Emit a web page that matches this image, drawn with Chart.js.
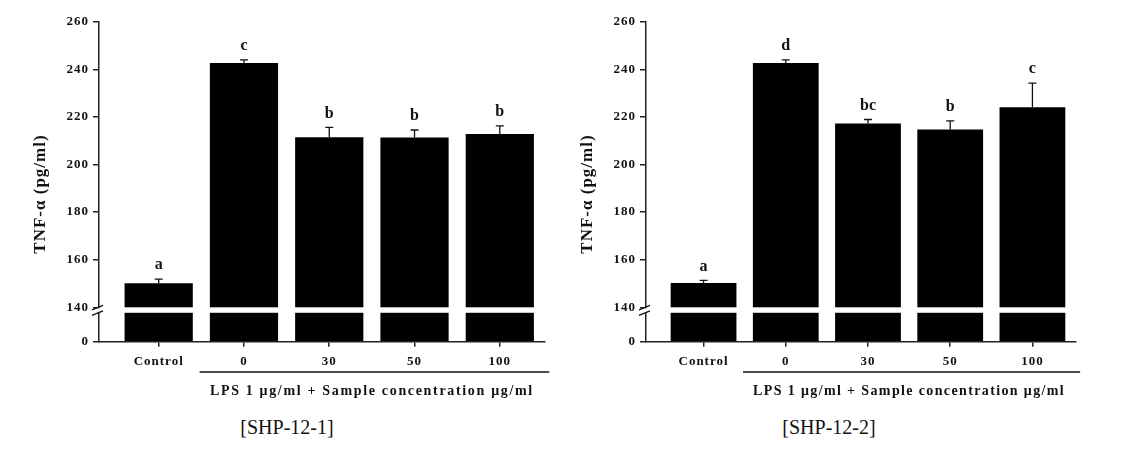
<!DOCTYPE html>
<html>
<head>
<meta charset="utf-8">
<script src="https://cdn.jsdelivr.net/npm/chart.js@4"></script>
<style>
  body { margin: 0; background: #fff; }
  #wrap { position: relative; width: 1130px; height: 452px; overflow: hidden; background: #fff; }
  canvas { position: absolute; top: 0; }
  .caption { position: absolute; top: 416px; font: 20px 'Liberation Serif', serif; color: #111; transform: translateX(-50%); white-space: nowrap; line-height: 23px; }
</style>
</head>
<body>
<div id="wrap">
  <canvas id="chart1" width="565" height="400" style="left:0"></canvas>
  <canvas id="chart2" width="565" height="400" style="left:547px"></canvas>
  <div class="caption" style="left:287px">[SHP-12-1]</div>
  <div class="caption" style="left:829px">[SHP-12-2]</div>
</div>
<script>
// data
const categories = ['Control', '0', '30', '50', '100'];
const tickValues = [0, 140, 160, 180, 200, 220, 240, 260];

const shp1Values = [150.1, 242.6, 211.4, 211.3, 212.8];
const shp1Errors = [1.7, 1.4, 4.2, 3.2, 3.4];
const shp1Letters = ['a', 'c', 'b', 'b', 'b'];

const shp2Values = [150.2, 242.7, 217.2, 214.7, 224.1];
const shp2Errors = [1.1, 1.3, 1.7, 3.6, 10.1];
const shp2Letters = ['a', 'd', 'bc', 'b', 'c'];

const xTitle = 'LPS 1 \u03bcg/ml + Sample concentration \u03bcg/ml';
const yTitle = 'TNF-\u03b1 (pg/ml)';

// broken axis: 0..140 squeezed into a short lower segment
const LOWER = 14.45;
const GAP = 2.3;
function toDisp(v) {
  return v >= 140 ? v - 140 + LOWER : v * LOWER / 140;
}

Chart.defaults.font.family = "'Liberation Serif', 'Times New Roman', serif";
Chart.defaults.font.weight = 'bold';
Chart.defaults.color = '#111';

const notesPlugin = {
  id: 'notes',
  beforeDraw(chart) {
    chart.ctx.letterSpacing = '1px';
  },
  afterDatasetsDraw(chart, args, opts) {
    const ctx = chart.ctx;
    const x = chart.scales.x, y = chart.scales.y;
    const area = chart.chartArea;
    ctx.save();
    // white gap through the bars at the break
    const gTop = y.getPixelForValue(LOWER);
    const gBot = y.getPixelForValue(LOWER - GAP);
    ctx.fillStyle = '#fff';
    ctx.fillRect(area.left + 1, gTop, area.right - area.left, gBot - gTop);

    // error bars (upper half) and letters
    ctx.strokeStyle = '#111';
    ctx.lineWidth = 1.3;
    ctx.fillStyle = '#111';
    ctx.font = "bold 16px 'Liberation Serif', serif";
    ctx.letterSpacing = '0px';
    ctx.textAlign = 'center';
    ctx.textBaseline = 'middle';
    opts.values.forEach((v, i) => {
      const px = x.getPixelForValue(i);
      const top = y.getPixelForValue(toDisp(v));
      const cap = y.getPixelForValue(toDisp(v + opts.errors[i]));
      ctx.beginPath();
      ctx.moveTo(px, top);
      ctx.lineTo(px, cap);
      ctx.moveTo(px - 4, cap);
      ctx.lineTo(px + 4, cap);
      ctx.stroke();
      ctx.fillText(opts.letters[i], px, cap - 14);
    });

    // axis break mark
    const ax = area.left;
    ctx.fillStyle = '#fff';
    ctx.fillRect(ax - 2, gTop + 1, 4, gBot - gTop - 1);
    ctx.beginPath();
    ctx.moveTo(ax - 7, gTop + 2.5);
    ctx.lineTo(ax + 4, gTop - 2);
    ctx.moveTo(ax - 7, gBot + 2.5);
    ctx.lineTo(ax + 4, gBot - 2);
    ctx.stroke();
    ctx.restore();
  },
  afterDraw(chart) {
    const ctx = chart.ctx;
    const x = chart.scales.x;
    ctx.save();
    // bracket line under the LPS groups
    const x1 = x.getPixelForValue(1), x4 = x.getPixelForValue(4);
    const unit = x.getPixelForValue(1) - x.getPixelForValue(0);
    ctx.strokeStyle = '#111';
    ctx.lineWidth = 1.5;
    ctx.beginPath();
    ctx.moveTo(x1 - 0.52 * unit, 372);
    ctx.lineTo(x4 + 0.58 * unit, 372);
    ctx.stroke();

    // group title, stretched to the width of the original
    ctx.fillStyle = '#111';
    ctx.font = "bold 14px 'Liberation Serif', serif";
    ctx.letterSpacing = '0px';
    const target = 1.26 * (x4 - x1);
    const w = ctx.measureText(xTitle).width;
    ctx.letterSpacing = ((target - w) / (xTitle.length - 1)).toFixed(2) + 'px';
    ctx.textAlign = 'center';
    ctx.textBaseline = 'middle';
    ctx.fillText(xTitle, (x1 + x4) / 2, 391);

    // y title
    ctx.font = "bold 17px 'Liberation Serif', serif";
    ctx.letterSpacing = '1px';
    ctx.translate(41, 194);
    ctx.rotate(-Math.PI / 2);
    ctx.fillText(yTitle, 0, 0);
    ctx.restore();
  }
};

function makeChart(id, values, errors, letters, padRight) {
  return new Chart(document.getElementById(id), {
    type: 'bar',
    data: {
      datasets: [{
        data: values.map((v, i) => ({ x: i, y: toDisp(v) })),
        backgroundColor: '#000',
        borderWidth: 0,
        categoryPercentage: 1,
        barPercentage: 0.8
      }]
    },
    options: {
      responsive: false,
      animation: false,
      layout: { padding: { left: 0, top: 21.7, right: padRight, bottom: 0 } },
      plugins: {
        legend: { display: false },
        tooltip: { enabled: false },
        notes: { values: values, errors: errors, letters: letters }
      },
      scales: {
        x: {
          type: 'linear',
          offset: false,
          min: -0.7,
          max: 4.53,
          afterBuildTicks: s => { s.ticks = categories.map((c, i) => ({ value: i })); },
          afterFit: s => { s.height = 58.3; },
          ticks: {
            callback: v => categories[v],
            padding: 7,
            autoSkip: false,
            maxRotation: 0,
            font: { size: 13, weight: 'bold' },
            color: '#111'
          },
          grid: { offset: false, drawOnChartArea: false, drawTicks: true, tickLength: 5, color: '#222', lineWidth: 1.5 },
          border: { display: true, color: '#222', width: 1.5 }
        },
        y: {
          min: 0,
          max: toDisp(260),
          afterBuildTicks: s => { s.ticks = tickValues.map(v => ({ value: toDisp(v) })); },
          afterFit: s => { s.width = 99; },
          ticks: {
            callback: (v, i) => tickValues[i],
            padding: 4,
            font: { size: 13, weight: 'bold' },
            color: '#111'
          },
          grid: { drawOnChartArea: false, drawTicks: true, tickLength: 6, color: '#222', lineWidth: 1.5 },
          border: { display: true, color: '#222', width: 1.5 }
        }
      }
    },
    plugins: [notesPlugin]
  });
}

makeChart('chart1', shp1Values, shp1Errors, shp1Letters, 20);
makeChart('chart2', shp2Values, shp2Errors, shp2Letters, 36);
</script>
</body>
</html>
